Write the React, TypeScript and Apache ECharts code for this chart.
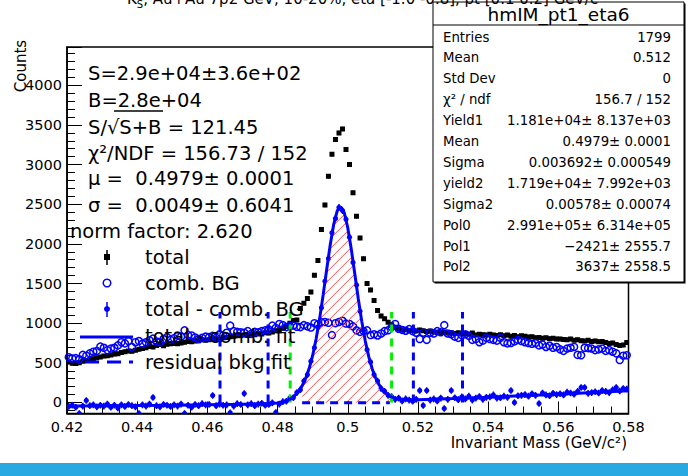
import React, { useEffect, useRef } from "react";
import * as echarts from "echarts";

const FONT = "DejaVu Sans";
const BLUE = "#0000ff";
const GREEN = "#00ee00";

// histogram binning
const BIN_START = 0.42;
const BIN_WIDTH = 0.001;

// total (black)
const totalCounts = [
  510, 495, 490, 500, 520, 530, 545, 550, 565, 575,
  585, 590, 600, 610, 615, 630, 640, 650, 645, 660,
  670, 680, 690, 705, 700, 720, 730, 715, 735, 740,
  745, 740, 750, 760, 770, 765, 775, 780, 790, 785,
  790, 800, 805, 795, 815, 820, 830, 835, 840, 845,
  850, 845, 860, 855, 870, 865, 880, 875, 890, 905,
  905, 935, 960, 1000, 1035, 1040, 1186, 1250, 1310, 1392,
  1603, 1792, 2180, 2490, 2852, 3130, 3315, 3400, 3450, 3190,
  3000, 2645, 2347, 2075, 1813, 1500, 1420, 1287, 1161, 1090,
  1056, 1013, 980, 950, 930, 915, 920, 905, 910, 900,
  915, 905, 895, 900, 890, 885, 880, 890, 875, 880,
  870, 880, 865, 870, 860, 875, 850, 860, 855, 850,
  860, 850, 845, 855, 840, 850, 835, 845, 830, 840,
  835, 825, 830, 815, 820, 810, 815, 805, 810, 800,
  800, 795, 790, 800, 785, 790, 780, 775, 785, 770,
  775, 765, 770, 755, 745, 750, 730, 720, 725, 757,
];

// comb. BG (open circles)
const combBG = [
  570, 555, 560, 545, 600, 590, 620, 640, 650, 705,
  690, 660, 680, 690, 720, 760, 745, 775, 700, 760,
  775, 740, 760, 785, 805, 770, 760, 800, 825, 790,
  810, 845, 830, 910, 850, 845, 820, 800, 815, 830,
  825, 840, 815, 860, 845, 880, 970, 900, 890, 885,
  880, 900, 865, 890, 885, 900, 910, 920, 970, 940,
  990, 975, 950, 965, 970, 955, 950, 975, 960, 945,
  1000, 985, 1010, 1015, 1005, 850, 1000, 1015, 1030, 995,
  990, 960, 910, 890, 900, 910, 850, 860, 845, 870,
  900, 910, 950, 990, 930, 915, 905, 925, 900, 880,
  800, 880, 790, 880, 870, 900, 885, 975, 870, 860,
  830, 815, 850, 860, 840, 790, 800, 760, 780, 815,
  800, 790, 780, 815, 760, 745, 750, 770, 790, 775,
  760, 750, 740, 750, 720, 730, 700, 715, 690, 700,
  670, 650, 680, 690, 700, 600, 595, 690, 685, 680,
  660, 670, 680, 650, 660, 640, 620, 535, 590, 595,
];

// total - comb. BG (blue filled)
const residual = [
  -50, -35, -60, -139, -45, 25, -40, -30, -55, -35,
  -45, -20, -60, -35, -70, -30, -50, -25, -40, -55,
  -139, -30, -45, -20, 63, -40, -55, -25, -35, -50,
  -30, -45, -20, -139, -35, -60, -25, -40, -15, -30,
  -25, 88, -40, -20, -35, -30, -130, -45, -15, -25,
  113, -30, -15, -40, -20, -10, -35, -25, -5, -126,
  -20, 10, 15, 55, 60, 125, 160, 270, 350, 520,
  690, 945, 1195, 1530, 1815, 2140, 2320, 2460, 2420, 2310,
  2085, 1765, 1480, 1150, 905, 665, 510, 350, 270, 175,
  140, 90, 75, 40, 55, 20, 45, 30, 15, 40,
  151, -38, 151, 30, 45, 20, 55, -76, 40, 151,
  60, 35, 70, 45, 80, 30, 55, 75, 40, 65,
  70, 95, 55, 60, 80, 65, 151, 0, 85, 90,
  100, 80, 110, 90, -13, 120, 95, 85, 115, 100,
  110, 95, 130, 120, 105, 140, 189, 189, 115, 125,
  135, 120, 150, 140, 125, 160, 189, 145, 176, 170,
];

const TOTAL_ERR = 28;
const RESID_ERR = 42;

// total - comb. fit curve
const fitX = [
  0.42, 0.43, 0.44, 0.45, 0.46, 0.47, 0.475,
  0.48, 0.481, 0.482, 0.483, 0.484, 0.485, 0.486, 0.487, 0.488, 0.489,
  0.49, 0.491, 0.492, 0.493, 0.494, 0.495, 0.496, 0.497, 0.498, 0.499,
  0.5, 0.501, 0.502, 0.503, 0.504, 0.505, 0.506, 0.507, 0.508, 0.509,
  0.51, 0.511, 0.512, 0.513, 0.514, 0.515, 0.516, 0.517, 0.518, 0.519,
  0.52, 0.53, 0.54, 0.55, 0.56, 0.57, 0.58,
];
const fitY = [
  -45, -42, -38, -34, -29, -23, -18,
  -6, 2, 13, 30, 55, 91, 140, 209, 303, 428,
  593, 803, 1061, 1360, 1678, 1987, 2247, 2417, 2469, 2394,
  2205, 1935, 1623, 1308, 1020, 774, 575, 420, 304, 218,
  156, 112, 81, 61, 47, 39, 35, 33, 33, 33,
  34, 50, 67, 85, 105, 126, 148,
];

// hatched signal range
const signalRange = [0.487, 0.512];
// residual bkg fit (dashed)
const residBkgX = [0.487, 0.512];
const residBkgY = [-5, -5];

// vertical cut lines
const sidebandLinesX = [0.4636, 0.4773, 0.5187, 0.5327];
const signalLinesX = [0.4836, 0.5125];
const cutLineRange = [0, 1140];

const fitInfoLines = [
  "S=2.9e+04\u00b13.6e+02",
  "B=2.8e+04",
  "S/\u221aS+B = 121.45",
  "\u03c7\u00b2/NDF = 156.73 / 152",
  "\u03bc =  0.4979\u00b1 0.0001",
  "\u03c3 =  0.0049\u00b1 0.6041",
];
const normLine = "norm factor: 2.620";

const legendLabels = [
  "total",
  "comb. BG",
  "total - comb. BG",
  "total - comb. fit",
  "residual bkg fit",
];

const statsTitle = "hmIM_pt1_eta6";
const statsLabels = ["Entries", "Mean", "Std Dev", "\u03c7\u00b2 / ndf", "Yield1", "Mean", "Sigma", "yield2", "Sigma2", "Pol0", "Pol1", "Pol2"];
const statsValues = [
  "1799", "0.512", "0", "156.7 / 152",
  "1.181e+04\u00b1 8.137e+03", "0.4979\u00b1 0.0001", "0.003692\u00b1 0.000549",
  "1.719e+04\u00b1 7.992e+03", "0.00578\u00b1 0.00074",
  "2.991e+05\u00b1 6.314e+05", "\u22122421\u00b1 2555.7", "3637\u00b1 2558.5",
];

const titleRest = ", Au+Au 7p2 GeV, 10-20%, eta [-1.0 -0.8], pt [0.1 0.2] GeV/c";

function buildOption(): any {
  const xCenters = totalCounts.map((_, i) => +(BIN_START + (i + 0.5) * BIN_WIDTH).toFixed(4));
  const fitData = fitX.map((x, i) => [x, fitY[i]]);
  const hatchData = fitData.filter((p) => p[0] >= signalRange[0] - 1e-9 && p[0] <= signalRange[1] + 1e-9);

  const cutSeries = [
    ...sidebandLinesX.map((x) => ({ x, color: BLUE })),
    ...signalLinesX.map((x) => ({ x, color: GREEN })),
  ].map((l) => ({
    type: "line",
    data: [[l.x, cutLineRange[0]], [l.x, cutLineRange[1]]],
    symbol: "none",
    silent: true,
    z: 4,
    lineStyle: { color: l.color, width: 3, type: [8, 6] },
  }));

  const errRender = (err: number, kind: "total" | "resid") => (params: any, api: any) => {
    const x = api.value(0) as number;
    const y = api.value(1) as number;
    const c = api.coord([x, y]);
    const t = api.coord([x, y + err]);
    const b = api.coord([x, y - err]);
    const color = kind === "total" ? "#000" : BLUE;
    const marker =
      kind === "total"
        ? { type: "rect", shape: { x: c[0] - 2.5, y: c[1] - 2.5, width: 5, height: 5 }, style: { fill: color } }
        : { type: "circle", shape: { cx: c[0], cy: c[1], r: 2.6 }, style: { fill: color } };
    return {
      type: "group",
      children: [
        { type: "line", shape: { x1: c[0], y1: t[1], x2: c[0], y2: b[1] }, style: { stroke: color, lineWidth: kind === "total" ? 1 : 1.5 } },
        marker,
      ],
    };
  };

  // red "/" hatching between the fit curve and the residual bkg level
  const hatchRender = (params: any, api: any) => {
    const pts = hatchData.map((p) => api.coord(p));
    const base = api.coord([signalRange[0], residBkgY[0]])[1];
    const xa = pts[0][0];
    const xb = pts[pts.length - 1][0];
    const topAt = (px: number) => {
      for (let k = 0; k < pts.length - 1; k++) {
        const a = pts[k];
        const b = pts[k + 1];
        if (px >= a[0] && px <= b[0]) {
          const t = (px - a[0]) / (b[0] - a[0] || 1);
          return a[1] + t * (b[1] - a[1]);
        }
      }
      return base;
    };
    const minTop = Math.min(...pts.map((p: number[]) => p[1]));
    const children: any[] = [];
    const seg = (s: number[], e: number[]) => {
      if (Math.abs(e[0] - s[0]) < 0.6) return;
      children.push({ type: "line", shape: { x1: s[0], y1: s[1], x2: e[0], y2: e[1] }, style: { stroke: "#ff4a4a", lineWidth: 1 } });
    };
    for (let c = xa + minTop; c <= xb + base + 10; c += 10) {
      let start: number[] | null = null;
      let prev: number[] = [xa, c - xa];
      for (let px = xa; px <= xb + 0.01; px += 0.5) {
        const py = c - px;
        const inside = py <= base && py >= topAt(px);
        if (inside && !start) start = [px, py];
        if (!inside && start) {
          seg(start, prev);
          start = null;
        }
        prev = [px, py];
      }
      if (start) seg(start, prev);
    }
    return { type: "group", children };
  };

  const txt = (text: string, x: number, y: number, size: number, extra: any = {}) => ({
    type: "text",
    x,
    y,
    z: 100,
    style: { text, fill: "#000", font: `${size}px "${FONT}"`, verticalAlign: "middle", align: "left", ...extra },
  });

  const graphic: any[] = [];
  // bottom band
  graphic.push({ type: "rect", shape: { x: 0, y: 463, width: 688, height: 13 }, style: { fill: "#29a9e1" }, z: 100 });
  // y title
  graphic.push({
    type: "text", x: 21, y: 66, rotation: Math.PI / 2, z: 100,
    style: { text: "Counts", fill: "#000", font: `15px "${FONT}"`, align: "center", verticalAlign: "middle" },
  });
  // x title
  graphic.push(txt("Invariant Mass (GeV/c\u00b2)", 627, 443, 15, { align: "right" }));
  // fit info
  const infoY = [73, 100, 127, 153, 178, 205];
  fitInfoLines.forEach((s, i) => graphic.push(txt(s, 88, infoY[i], 19.5)));
  graphic.push({ type: "line", z: 100, shape: { x1: 114, y1: 111, x2: 163, y2: 111 }, style: { stroke: "#000", lineWidth: 1.5 } });
  graphic.push(txt(normLine, 70, 231, 19.5));
  // legend
  const legY = [257, 283, 309, 336, 362];
  legendLabels.forEach((s, i) => graphic.push(txt(s, 145, legY[i], 19.5)));
  graphic.push({ type: "line", z: 100, shape: { x1: 107, y1: 250, x2: 107, y2: 265 }, style: { stroke: "#000", lineWidth: 1.5 } });
  graphic.push({ type: "rect", z: 100, shape: { x: 104, y: 254, width: 6, height: 6 }, style: { fill: "#000" } });
  graphic.push({ type: "circle", z: 100, shape: { cx: 107, cy: 283, r: 3.8 }, style: { fill: "none", stroke: BLUE, lineWidth: 1.5 } });
  graphic.push({ type: "line", z: 100, shape: { x1: 107, y1: 302, x2: 107, y2: 317 }, style: { stroke: BLUE, lineWidth: 1.5 } });
  graphic.push({ type: "circle", z: 100, shape: { cx: 107, cy: 309, r: 3 }, style: { fill: BLUE } });
  graphic.push({ type: "line", z: 100, shape: { x1: 80, y1: 337, x2: 133, y2: 337 }, style: { stroke: BLUE, lineWidth: 3 } });
  graphic.push({ type: "line", z: 100, shape: { x1: 85, y1: 362, x2: 133, y2: 362 }, style: { stroke: BLUE, lineWidth: 3, lineDash: [14, 8] } });
  // stats box
  graphic.push({ type: "rect", z: 110, shape: { x: 434.5, y: 3.5, width: 251, height: 280 }, style: { fill: "#000" } });
  graphic.push({ type: "rect", z: 111, shape: { x: 433, y: 2, width: 251, height: 280 }, style: { fill: "#fff", stroke: "#000", lineWidth: 1 } });
  graphic.push({ type: "line", z: 112, shape: { x1: 433, y1: 25, x2: 684, y2: 25 }, style: { stroke: "#000", lineWidth: 1 } });
  graphic.push({
    type: "text", x: 558.5, y: 14, z: 112,
    style: { text: statsTitle, fill: "#000", font: `18.5px "${FONT}"`, align: "center", verticalAlign: "middle" },
  });
  statsLabels.forEach((s, i) => {
    const y = 37 + i * 20.9;
    graphic.push({ type: "text", x: 443, y, z: 112, style: { text: s, fill: "#000", font: `13.3px "${FONT}"`, align: "left", verticalAlign: "middle" } });
    graphic.push({ type: "text", x: 671, y, z: 112, style: { text: statsValues[i], fill: "#000", font: `13.3px "${FONT}"`, align: "right", verticalAlign: "middle" } });
  });
  // title (mostly clipped at top, as in the original canvas)
  graphic.push({
    type: "text", x: 127, y: -1, z: 120,
    style: {
      text: `{k|K}{s|S}{t|${titleRest}}`,
      fill: "#000",
      verticalAlign: "middle",
      align: "left",
      rich: {
        k: { font: `15px "${FONT}"`, fill: "#000" },
        s: { font: `10px "${FONT}"`, fill: "#000", padding: [10, 0, 0, 0] },
        t: { font: `15px "${FONT}"`, fill: "#000" },
      },
    },
  });

  return {
    animation: false,
    backgroundColor: "#fff",
    grid: { left: 67, top: 47, width: 561.5, height: 366.5, show: true, borderColor: "#000", borderWidth: 1.5, backgroundColor: "transparent", outerBoundsMode: "none" },
    xAxis: {
      type: "value",
      min: 0.42,
      max: 0.58,
      interval: 0.02,
      axisLine: { show: true, onZero: false, lineStyle: { color: "#000", width: 1.5 } },
      axisTick: { show: true, inside: true, length: 12, lineStyle: { color: "#000", width: 1 } },
      minorTick: { show: true, splitNumber: 4, length: 7, lineStyle: { color: "#000", width: 1 } },
      splitLine: { show: false },
      minorSplitLine: { show: false },
      axisLabel: {
        color: "#000", fontFamily: FONT, fontSize: 14.5, margin: 6,
        formatter: (v: number) => String(parseFloat(v.toFixed(2))),
      },
    },
    yAxis: {
      type: "value",
      min: -139,
      max: 4483,
      splitNumber: 9,
      axisLine: { show: true, onZero: false, lineStyle: { color: "#000", width: 1.5 } },
      axisTick: { show: true, inside: true, length: 15, lineStyle: { color: "#000", width: 1 } },
      minorTick: { show: true, splitNumber: 5, length: 8, lineStyle: { color: "#000", width: 1 } },
      splitLine: { show: false },
      minorSplitLine: { show: false },
      axisLabel: {
        color: "#000", fontFamily: FONT, fontSize: 14.5, margin: 5,
        showMinLabel: false, showMaxLabel: false,
        formatter: (v: number) => String(Math.round(v)),
      },
    },
    graphic: { elements: graphic },
    series: [
      {
        name: "total",
        type: "custom",
        clip: true,
        silent: true,
        z: 2,
        data: xCenters.map((x, i) => [x, totalCounts[i]]),
        encode: { x: 0, y: 1 },
        renderItem: errRender(TOTAL_ERR, "total"),
      },
      {
        name: "comb. BG",
        type: "scatter",
        silent: true,
        clip: true,
        z: 2,
        symbol: "circle",
        symbolSize: 7,
        data: xCenters.map((x, i) => [x, combBG[i]]),
        itemStyle: { color: "rgba(0,0,0,0)", borderColor: BLUE, borderWidth: 1.5, opacity: 1 },
      },
      {
        name: "total - comb. BG",
        type: "custom",
        clip: true,
        silent: true,
        z: 3,
        data: xCenters.map((x, i) => [x, residual[i]]),
        encode: { x: 0, y: 1 },
        renderItem: errRender(RESID_ERR, "resid"),
      },
      ...cutSeries,
      {
        name: "signal",
        type: "custom",
        silent: true,
        clip: true,
        z: 4,
        data: [[signalRange[0], residBkgY[0]]],
        encode: { x: 0, y: 1 },
        renderItem: hatchRender,
      },
      {
        name: "residual bkg fit",
        type: "line",
        silent: true,
        z: 5,
        symbol: "none",
        data: residBkgX.map((x, i) => [x, residBkgY[i]]),
        lineStyle: { color: BLUE, width: 3, type: [8, 6] },
      },
      {
        name: "total - comb. fit",
        type: "line",
        silent: true,
        z: 6,
        symbol: "none",
        clip: true,
        data: fitData,
        lineStyle: { color: BLUE, width: 3 },
      },
    ],
  };
}

export default function App() {
  const ref = useRef<HTMLDivElement>(null);
  useEffect(() => {
    const el = ref.current;
    if (!el) return;
    const chart = echarts.init(el, null, { renderer: "svg" });
    chart.setOption(buildOption());
    return () => chart.dispose();
  }, []);
  return (
    <div
      ref={ref}
      style={{ position: "fixed", left: 0, top: 0, width: 688, height: 476, background: "#fff" }}
    />
  );
}
